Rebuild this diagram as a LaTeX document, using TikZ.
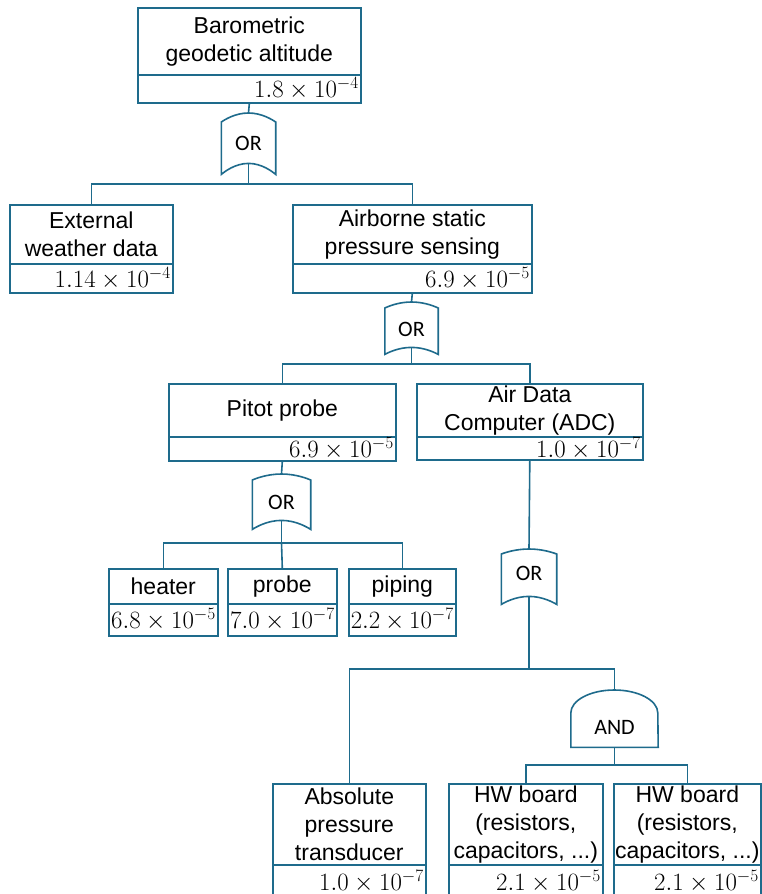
\documentclass[tikz,border=0pt]{standalone}
\usepackage[no-math]{fontspec}
\setmainfont{Liberation Sans}
\newfontfamily\gatefont{Carlito}
\usetikzlibrary{calc}
\definecolor{ft}{HTML}{1E6B8C}
\tikzset{
  ftline/.style={draw=ft, line width=1.6pt},
  namebox/.style={ftline, rectangle, inner sep=0pt, align=center, anchor=north west,
    font=\fontsize{23}{28}\selectfont},
  numbox/.style={ftline, rectangle, inner ysep=0pt, inner xsep=2pt, align=flush right, anchor=north west,
    font=\fontsize{23}{28}\selectfont},
  gatebox/.style={rectangle, inner sep=0pt, anchor=north, text depth=0pt,
    font=\gatefont\fontsize{22}{26}\selectfont},
  conn/.style={ftline},
}
% box: name, x1, y1, x2, ydiv, y2, text, number
\newcommand\ftbox[8]{%
  \node[namebox, minimum width={#4-#2}, minimum height={#5-#3}] (#1) at (#2,#3) {#7};
  \node[numbox, minimum height={#6-#5}, text width={#4-#2-4}] (#1n) at (#2,#5) {#8};
}
% or gate: name, cx, top apex, width, bottom apex, dt, db, text height
\newcommand\orgate[8]{%
  \node[gatebox, minimum width=#4, minimum height={#5-#3}, text height=#8] (#1) at (#2,#3) {OR};
  \draw[ftline] ($(#1.north west)+(0,#6)$) parabola bend (#1.north) ($(#1.north east)+(0,#6)$)
    -- ($(#1.south east)+(0,#7)$) parabola bend (#1.south) ($(#1.south west)+(0,#7)$) -- cycle;
}
\begin{document}
\begin{tikzpicture}[x=1pt,y=-1pt]
\useasboundingbox (0,0) rectangle (761,894);
\fill[white] (0,0) rectangle (761,894);

\ftbox{b1}{137}{7}{360}{74}{102}{Barometric\\geodetic altitude}{\(1.8\times10^{-4}\)}
\ftbox{b2}{9}{204}{172}{263}{292}{External\\weather data}{\(1.14\times10^{-4}\)}
\ftbox{b3}{292}{204}{531}{263}{292}{Airborne static\\pressure sensing}{\(6.9\times10^{-5}\)}
\ftbox{b4}{168}{383}{395}{436}{460}{Pitot probe}{\(6.9\times10^{-5}\)}
\ftbox{b5}{416}{383}{642}{436}{459}{Air Data\\Computer (ADC)}{\(1.0\times10^{-7}\)}
\ftbox{b6}{108}{568}{217}{603}{635}{heater}{\(6.8\times10^{-5}\)}
\ftbox{b7}{227}{568}{336}{603}{635}{probe}{\(7.0\times10^{-7}\)}
\ftbox{b8}{348}{568}{455}{603}{635}{piping}{\(2.2\times10^{-7}\)}
\ftbox{b9}{272}{783}{425}{864}{897}{Absolute\\pressure\\transducer}{\(1.0\times10^{-7}\)}
\ftbox{b10}{448}{783}{602}{864}{897}{HW board\\(resistors,\\capacitors, ...)}{\(2.1\times10^{-5}\)}
\ftbox{b11}{613}{783}{760}{864}{897}{HW board\\(resistors,\\capacitors, ...)}{\(2.1\times10^{-5}\)}

\orgate{g1}{248.5}{113}{54}{163}{9}{11}{24.2pt}
\orgate{g2}{411.5}{302}{53}{347}{6}{7}{23.2pt}
\orgate{g4}{281.5}{474}{58}{520}{6}{9}{24.2pt}
\orgate{g3}{529}{549}{55}{596}{5}{8}{15.2pt}

\node[gatebox, minimum width=87, minimum height=57, text height=31.2pt] (and) at (614.5,690) {AND};
\draw[ftline] (and.south west) -- ($(and.north west)+(0,23)$)
  arc[start angle=180, end angle=0, x radius=43.5pt, y radius=23pt]
  -- (and.south east) -- cycle;

\coordinate (bus1) at (248.5,184);
\coordinate (bus2) at (411.5,364);
\coordinate (bus4) at (281.5,543);
\coordinate (bus3) at (529,669);
\coordinate (bus5) at (614.5,765);

\draw[conn] (b1n.south) -- (g1.north);
\draw[conn] (g1.south) -- (bus1) -| (b2.north);
\draw[conn] (bus1) -| (b3.north);
\draw[conn] (b3n.south) -- (g2.north);
\draw[conn] (g2.south) -- (bus2) -| (b4.north);
\draw[conn] (bus2) -| (b5.north);
\draw[conn] (b4n.south) -- (g4.north);
\draw[conn] (g4.south) -- (bus4) -| (b6.north);
\draw[conn] (bus4) -- (b7.north);
\draw[conn] (bus4) -| (b8.north);
\draw[conn] (b5n.south) -- (g3.north);
\draw[conn] (g3.south) -- (bus3) -| (b9.north);
\draw[conn] (bus3) -| (and.north);
\draw[conn] (and.south) -- (bus5) -| (b10.north);
\draw[conn] (bus5) -| (b11.north);
\end{tikzpicture}
\end{document}
